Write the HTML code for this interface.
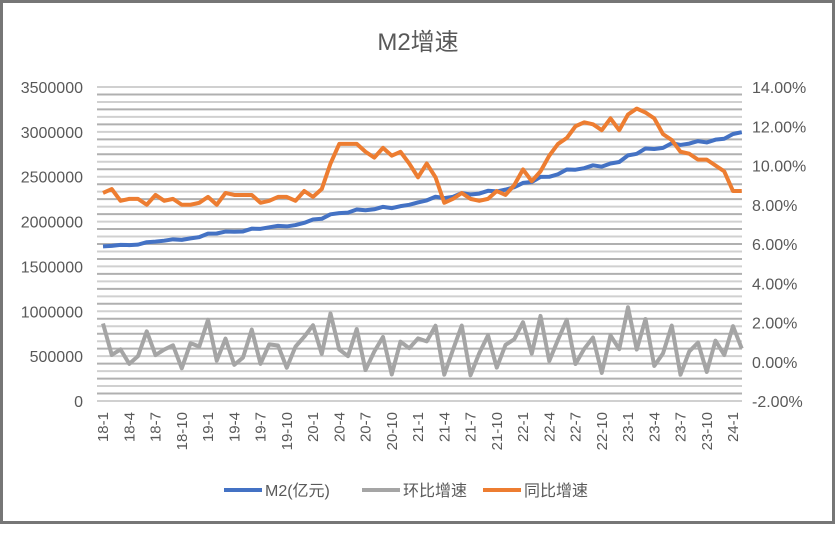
<!DOCTYPE html>
<html><head><meta charset="utf-8"><style>
body{margin:0;background:#fff;}
svg text{font-family:"Liberation Sans","Noto Sans CJK SC",sans-serif;fill:#595959;}
</style></head><body>
<svg id="s" width="836" height="528" xmlns="http://www.w3.org/2000/svg">
<rect x="1.5" y="1.5" width="832" height="521" fill="#fff" stroke="#767676" stroke-width="3"/>
<text x="418" y="50" font-size="24" text-anchor="middle">M2增速</text>
<g id="grid"></g>
<g id="ylab" font-size="16"></g>
<g id="xlab" font-size="15"></g>
<g id="lines"></g>
<g font-size="16">
<line x1="224" y1="490" x2="262" y2="490" stroke="#4472C4" stroke-width="4"/>
<text x="265" y="496">M2(亿元)</text>
<line x1="362" y1="490" x2="400" y2="490" stroke="#A5A5A5" stroke-width="4"/>
<text x="403" y="496">环比增速</text>
<line x1="483" y1="490" x2="521" y2="490" stroke="#ED7D31" stroke-width="4"/>
<text x="524" y="496">同比增速</text>
</g>
</svg>
<script>
(function(){
const NS="http://www.w3.org/2000/svg";
function el(p,t,a,txt){const e=document.createElementNS(NS,t);for(const k in a)e.setAttribute(k,a[k]);if(txt!==undefined)e.textContent=txt;document.getElementById(p).appendChild(e);return e;}
const T=87,B=401,L=97,R=742;
for(let i=0;i<=42;i++){const y=T+(B-T)*i/42;el("grid","line",{x1:L,x2:R,y1:y,y2:y,stroke:i%2?"#b0b0b0":"#d0d0d0","stroke-width":2});}
for(let i=0;i<=7;i++){const y=B-(B-T)*i/7;el("ylab","text",{x:83,y:y+6,"text-anchor":"end"},String(i*500000));}
for(let i=0;i<=8;i++){const p=-2+2*i;const y=B-(B-T)*i/8;el("ylab","text",{x:752,y:y+6},p.toFixed(2)+"%");}
const m2=[172.3,172.9,173.99,173.8,174.3,177.0,177.6,178.7,180.2,179.6,181.3,182.7,186.6,186.7,188.9,188.6,189.0,192.1,191.9,193.6,195.2,194.6,196.1,198.6,202.3,203.1,208.1,209.4,210.0,213.5,212.6,213.7,216.4,215.0,217.2,218.7,221.3,223.6,227.7,226.2,227.6,231.8,230.2,231.2,234.3,233.6,235.6,238.3,243.1,244.1,249.8,249.9,252.7,258.1,257.8,259.5,262.7,261.2,264.7,266.4,273.8,275.5,281.5,280.9,282.1,287.3,285.4,286.9,289.7,288.2,291.3,292.3,297.6,299.6];
const yoy=[8.6,8.8,8.2,8.3,8.3,8.0,8.5,8.2,8.3,8.0,8.0,8.1,8.4,8.0,8.6,8.5,8.5,8.5,8.1,8.2,8.4,8.4,8.2,8.7,8.4,8.8,10.1,11.1,11.1,11.1,10.7,10.4,10.9,10.5,10.7,10.1,9.4,10.1,9.4,8.1,8.3,8.6,8.3,8.2,8.3,8.7,8.5,9.0,9.8,9.2,9.7,10.5,11.1,11.4,12.0,12.2,12.1,11.8,12.4,11.8,12.6,12.9,12.7,12.4,11.6,11.3,10.7,10.6,10.3,10.3,10.0,9.7,8.7,8.7];
const X=i=>103+i*8.75;
const yl=v=>B-v/3500000*(B-T);
const yr=p=>B-(p+2)/16*(B-T);
let pb=[],pg=[],po=[];
for(let i=0;i<m2.length;i++){
 pb.push(X(i)+","+yl(m2[i]*10000));
 const mom=i==0?1.95:(m2[i]/m2[i-1]-1)*100;
 pg.push(X(i)+","+yr(mom));
 po.push(X(i)+","+yr(yoy[i]));
}
el("lines","polyline",{points:pg.join(" "),fill:"none",stroke:"#A5A5A5","stroke-width":4,"stroke-linejoin":"round"});
el("lines","polyline",{points:pb.join(" "),fill:"none",stroke:"#4472C4","stroke-width":4,"stroke-linejoin":"round"});
el("lines","polyline",{points:po.join(" "),fill:"none",stroke:"#ED7D31","stroke-width":4,"stroke-linejoin":"round"});
for(let i=0;i<=72;i+=3){const yy=18+Math.floor(i/12),mo=i%12+1;const x=X(i)+5;
 el("xlab","text",{x:x,y:412,transform:"rotate(-90 "+x+" 412)","text-anchor":"end"},yy+"-"+mo);}
})();
</script>
</body></html>
